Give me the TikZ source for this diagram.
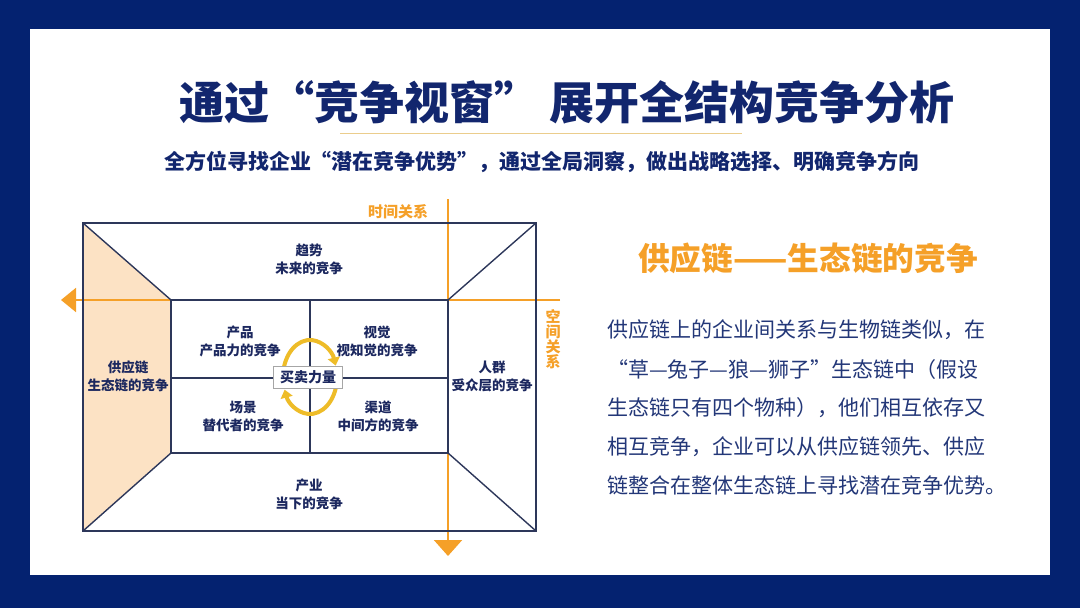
\documentclass[tikz,border=0pt]{standalone}
\usepackage{fontspec}
\setmainfont{Noto Sans CJK SC}
\newfontfamily\heavycjk{Noto Sans CJK SC Black}
\usepackage{xcolor}
\usetikzlibrary{arrows.meta, positioning, calc}

\definecolor{framenavy}{RGB}{4,34,112}
\definecolor{titlenavy}{RGB}{18,38,110}
\definecolor{boxnavy}{RGB}{28,40,95}
\definecolor{gridline}{RGB}{45,55,90}
\definecolor{axisorange}{RGB}{245,160,40}
\definecolor{panelfill}{RGB}{252,226,196}
\definecolor{cyclegold}{RGB}{238,188,40}
\definecolor{bodyblue}{RGB}{35,55,120}
\definecolor{ruleGold}{RGB}{235,205,140}

\begin{document}
\begin{tikzpicture}[x=1pt, y=-1pt,
  gridbox/.style={draw=gridline, line width=1.4pt},
  axisline/.style={draw=axisorange, line width=2pt},
  celltext/.style={text=boxnavy, align=center, inner sep=0pt,
    font=\bfseries\fontsize{13.5}{18}\selectfont},
  axislabel/.style={text=axisorange, align=center, inner sep=0pt,
    font=\bfseries\fontsize{15}{15}\selectfont},
  cyclearc/.style={draw=cyclegold, line width=4pt,
    -{Triangle[length=8pt, width=12pt]}},
  bodyline/.style={anchor=west, text=bodyblue, inner sep=0pt,
    font=\fontsize{21}{21}\selectfont}
]
  % Slide frame and white sheet
  \fill[framenavy] (0,0) rectangle (1080,608);
  \fill[white] (30,29) rectangle (1050,575);

  % Title, rule and subtitle
  \node[text=titlenavy, inner sep=0pt, font=\heavycjk\fontsize{45}{45}\selectfont]
    (title) at (567,102) {通过“竞争视窗” 展开全结构竞争分析};
  \draw[ruleGold, line width=1pt] (340,133) -- (742,133);
  \node[text=titlenavy, inner sep=0pt, font=\bfseries\fontsize{21}{21}\selectfont]
    (subtitle) at (542,162) {全方位寻找企业“潜在竞争优势”，通过全局洞察，做出战略选择、明确竞争方向};

  % Corners of the competition window
  \coordinate (oTL) at (83,223);  \coordinate (oTR) at (536,223);
  \coordinate (oBL) at (83,531);  \coordinate (oBR) at (536,531);
  \coordinate (iTL) at (171,300); \coordinate (iTR) at (448,300);
  \coordinate (iBL) at (171,453); \coordinate (iBR) at (448,453);

  % Highlighted left panel
  \fill[panelfill] (oTL) -- (iTL) -- (iBL) -- (oBL) -- cycle;

  % Time and space axes
  \coordinate (spaceEnd) at (560,300);
  \coordinate (spaceTip) at (61,300);
  \coordinate (timeEnd) at (448,199);
  \coordinate (timeTip) at (448,556);
  \draw[axisline, -{Triangle[length=15pt, width=24pt]}] (spaceEnd) -- (spaceTip);
  \draw[axisline, -{Triangle[length=16pt, width=28pt]}] (timeEnd) -- (timeTip);

  % Outer frame, inner frame and diagonals
  \draw[gridbox] (oTL) rectangle (oBR);
  \draw[gridbox] (iTL) rectangle (iBR);
  \draw[gridbox] (oTL) -- (iTL) (oTR) -- (iTR) (oBL) -- (iBL) (oBR) -- (iBR);

  % Inner cross
  \draw[gridbox] (310,300) -- (310,453);
  \draw[gridbox] (171,378) -- (448,378);

  % Buy-sell cycle
  \draw[cyclearc] (310,377) ++(185:27 and 37) arc[start angle=185, end angle=342, x radius=27, y radius=37];
  \draw[cyclearc] (310,377) ++(5:27 and 37) arc[start angle=5, end angle=160, x radius=27, y radius=37];
  \node[draw=gray!70, fill=white, line width=0.8pt, minimum width=69pt, minimum height=22pt,
    inner sep=0pt, text=boxnavy, font=\bfseries\fontsize{14}{14}\selectfont]
    (trade) at (308,377) {买卖力量};

  % Cell labels
  \node[celltext] (trend)    at (309,259) {趋势\\未来的竞争};
  \node[celltext] (product)  at (240,341) {产品\\产品力的竞争};
  \node[celltext] (visual)   at (377,341) {视觉\\视知觉的竞争};
  \node[celltext] (scene)    at (243,416) {场景\\替代者的竞争};
  \node[celltext] (channel)  at (378,416) {渠道\\中间方的竞争};
  \node[celltext] (industry) at (309,494) {产业\\当下的竞争};
  \node[celltext] (supply)   at (128,376) {供应链\\生态链的竞争};
  \node[celltext] (crowd)    at (492,376) {人群\\受众层的竞争};

  % Axis labels
  \node[axislabel] (timeLabel)  at (398,212) {时间关系};
  \node[axislabel] (spaceLabel) at (553,339) {空\\间\\关\\系};

  % Right-hand text
  \node[text=axisorange, inner sep=0pt, font=\bfseries\fontsize{31.7}{31.7}\selectfont]
    (heading) at (808,258) {供应链——生态链的竞争};
  \node[bodyline] (body1) at (607,330) {供应链上的企业间关系与生物链类似，在};
  \node[bodyline] (body2) at (607,370) {“草—兔子—狼—狮子”生态链中（假设};
  \node[bodyline] (body3) at (607,408) {生态链只有四个物种），他们相互依存又};
  \node[bodyline] (body4) at (607,447) {相互竞争，企业可以从供应链领先、供应};
  \node[bodyline] (body5) at (607,485) {链整合在整体生态链上寻找潜在竞争优势。};
\end{tikzpicture}
\end{document}
